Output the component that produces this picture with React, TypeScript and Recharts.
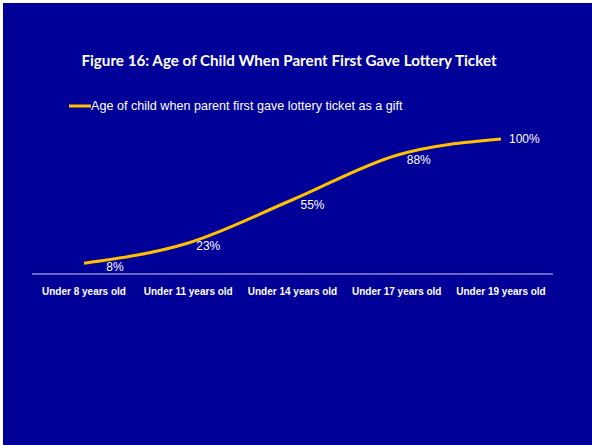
import React from 'react';
import { LineChart, Line, XAxis, YAxis, LabelList } from 'recharts';

const categories = ['Under 8 years old', 'Under 11 years old', 'Under 14 years old', 'Under 17 years old', 'Under 19 years old'];
const shares = [8, 23, 55, 88, 100];
const seriesName = 'Age of child when parent first gave lottery ticket as a gift';
const title = 'Figure 16: Age of Child When Parent First Gave Lottery Ticket';

// label nudges (Excel placed these by hand)
const labelDx = [31, 20, 20, 22, 8];
const labelDy = [4, 3, 5, 5, 0];

const data = categories.map((c, i) => ({ category: c, share: shares[i] }));

const BG = '#000099';
const LINE = '#FFC000';
const FONT = 'Liberation Sans, Arial, sans-serif';

const PointLabel = (props: any) => {
    const { x, y, value, index } = props;
    const last = index === shares.length - 1;
    return (
        <text
            x={x + labelDx[index]}
            y={y + labelDy[index]}
            fill="#fff"
            fontSize={12}
            fontFamily={FONT}
            textAnchor={last ? 'start' : 'middle'}
            dominantBaseline="central"
        >
            {value}%
        </text>
    );
};

export default function App() {
    return (
        <div style={{ position: 'fixed', left: 0, top: 0, width: 592, height: 445, background: '#fff' }}>
            <div style={{ position: 'absolute', left: 3, top: 3, width: 589, height: 442, background: BG }}>
                <div
                    style={{
                        position: 'absolute', left: 0, top: 48, width: 572, textAlign: 'center',
                        fontFamily: 'Lato, sans-serif', fontWeight: 700, fontSize: 15.2, color: '#fff',
                    }}
                >
                    {title}
                </div>
                <div
                    style={{
                        position: 'absolute', left: 66, top: 96, display: 'flex', alignItems: 'center',
                        fontFamily: FONT, fontSize: 12.6, color: '#fff', whiteSpace: 'nowrap',
                    }}
                >
                    <svg width={22} height={6}>
                        <line x1={0} y1={3} x2={22} y2={3} stroke={LINE} strokeWidth={3} />
                    </svg>
                    <span>{seriesName}</span>
                </div>
                <LineChart width={589} height={442} data={data} margin={{ top: 136, right: 39, bottom: 141, left: 29 }}>
                    <XAxis
                        dataKey="category"
                        padding={{ left: 52, right: 52 }}
                        axisLine={{ stroke: '#d0d0e8', strokeWidth: 1 }}
                        tickLine={false}
                        interval={0}
                        tick={{ fill: '#fff', fontSize: 10, fontWeight: 700, fontFamily: FONT }}
                        tickMargin={8}
                    />
                    <YAxis hide domain={[0, 100]} />
                    <Line
                        type="monotone"
                        dataKey="share"
                        name={seriesName}
                        stroke={LINE}
                        strokeWidth={3}
                        dot={false}
                        isAnimationActive={false}
                    >
                        <LabelList dataKey="share" content={<PointLabel />} />
                    </Line>
                </LineChart>
            </div>
        </div>
    );
}
